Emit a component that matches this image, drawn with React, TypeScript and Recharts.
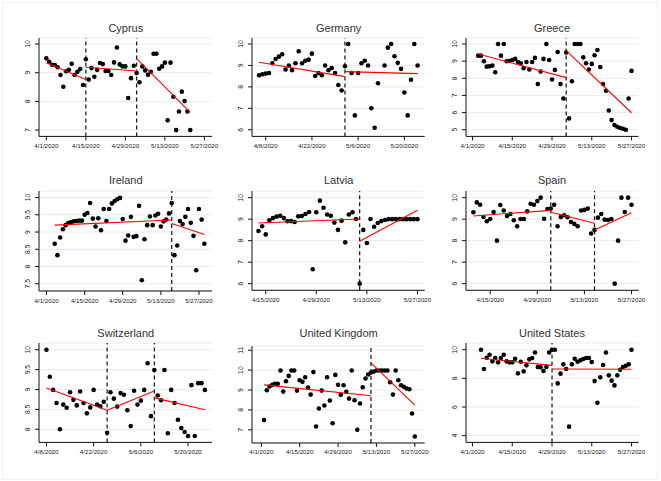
import React from 'react';
import { ScatterChart, Scatter, XAxis, YAxis, CartesianGrid, ReferenceLine } from 'recharts';

// day 0 = 4/1/2020; values are consecutive days starting at *Start
const cyprusStart = 0;
const cyprusValues = [9.5, 9.38, 9.28, 9.27, 9.19, 8.92, 8.51, 9.05, 9.1, 9.31, 8.92, 9.03, 9.13, 8.57, 9.47, 8.76, 9.16, 8.86, 9.1, 9.34, 9.3, 9.06, 9.06, 8.92, 9.36, 9.88, 9.29, 9.22, 9.22, 8.12, 8.81, 9.24, 8.99, 8.67, 9.22, 9.08, 8.93, 9.03, 9.66, 9.66, 9.14, 9.22, 9.35, 7.34, 9.35, 8.16, 7.0, 7.65, 8.34, 8.01, 7.65, 7.0];
const cyprusFit = [[0, 9.35, 14, 8.76], [14, 9.19, 32, 9.06], [32, 9.49, 51, 7.62]];
const cyprusBreaks = [14, 32];

const germanyStart = 5;
const germanyValues = [8.54, 8.59, 8.62, 8.65, 9.1, 9.3, 9.41, 9.52, 8.81, 9.0, 8.78, 9.1, 9.66, 9.1, 9.22, 9.27, 9.55, 8.51, 8.65, 8.54, 9.0, 8.78, 8.88, 8.65, 8.09, 7.83, 8.96, 10.0, 8.65, 6.67, 8.65, 9.1, 9.22, 9.0, 7.0, 6.09, 8.17, null, 9.0, 9.83, 10.0, 9.43, 9.12, 8.84, 7.74, 6.67, 8.33, 10.0, 9.0];
const germanyFit = [[5, 9.15, 31, 8.48], [31, 8.71, 53, 8.62]];
const germanyBreaks = [31];

const greeceStart = 2;
const greeceValues = [9.32, 9.32, 8.99, 8.68, 8.7, 8.74, 8.35, 10, 9.32, 10, 8.99, 9.01, 9.07, 9.13, 8.95, 8.88, 8.59, 8.95, 8.51, 8.95, 9.19, 7.66, 8.39, 9.13, 10, 9.07, 7.93, 8.49, 9.53, 7.66, 6.82, 9.5, 5.66, 7.83, 10, 10, 10, 9.22, 8.88, 8.51, 8.84, 9.34, 9.65, 8.66, 7.66, 7.27, 6.12, 5.56, 5.27, 5.17, 5.1, 5.06, 5.0, 6.82, 8.43];
const greeceFit = [[2, 9.42, 33, 8.04], [33, 9.61, 56, 5.99]];
const greeceBreaks = [33];

const irelandStart = 3;
const irelandValues = [8.66, 8.33, 8.84, 9.08, 9.2, 9.26, 9.29, 9.31, 9.32, 9.33, 9.33, 9.5, 9.55, 9.84, 9.39, 9.16, 9.4, 9.05, 9.67, 9.32, 9.67, 9.83, 9.9, 9.95, 9.99, 9.38, 8.75, 8.9, 9.44, 8.86, 8.88, 9.76, 7.6, 8.79, 9.2, 9.45, 9.2, 9.48, 9.53, 9.16, 9.31, 9.36, 9.54, 9.84, 8.33, 8.61, 9.32, 9.23, 9.44, 9.67, 9.27, 8.89, 7.89, 9.67, 9.36, 8.66];
const irelandFit = [[3, 9.2, 46, 9.35], [46, 9.25, 58, 8.93]];
const irelandBreaks = [46];

const latviaStart = 12;
const latviaValues = [8.45, 8.67, 8.29, 8.95, 9.05, 9.12, 9.16, 9.05, 8.9, 8.91, 8.87, 9.13, 9.15, 9.24, 9.33, 6.67, 9.32, 9.86, 9.53, 9.22, 9.16, 8.84, 8.5, 8.93, 7.92, 9.22, 9.32, 9.01, 6.0, 8.5, 7.89, 9.01, 8.65, 8.82, 8.91, 8.96, 9.0, 9.0, 9.0, 9.0, 9.0, 9.0, 9.0, 9.0, 9.0];
const latviaFit = [[12, 8.82, 40, 9.01], [40, 7.97, 56, 9.41]];
const latviaBreaks = [40];

const spainStart = 9;
const spainValues = [9.32, 9.78, 9.67, 9.1, 8.9, 9.01, 9.33, 8.0, 9.66, 9.4, 9.15, 9.24, 8.95, 8.67, 9.01, 9.01, 9.36, 9.72, 9.67, 9.84, 10, 9.02, 9.47, 9.49, 9.67, 8.67, 9.1, 9.18, 9.09, 8.87, 8.78, 8.67, 9.4, 9.43, 9.49, 8.33, 8.5, 9.07, 9.24, 8.98, 8.96, 9.01, 6.0, 8.0, 10, 9.33, 10, 9.67];
const spainFit = [[9, 9.15, 32, 9.41], [32, 9.32, 45, 8.81], [45, 8.5, 56, 9.3]];
const spainBreaks = [32, 45];

const switzerlandStart = 7;
const switzerlandValues = [10, 9.32, 8.99, 8.66, 8.0, 8.62, 8.54, 8.93, 8.74, 8.6, 8.95, 8.66, 8.4, 8.55, 8.99, 8.62, 8.58, 8.69, 7.91, 8.93, 8.77, 8.57, 8.91, 8.87, 8.48, 8.08, 8.97, 8.62, 8.72, 8.99, 9.66, 8.33, 9.49, 8.85, 8.73, 9.49, 7.9, 8.99, 8.66, 8.24, 8.03, 7.93, 7.83, 9.11, 7.83, 9.16, 9.16, 8.99];
const switzerlandFit = [[7, 9.04, 25, 8.48], [25, 8.48, 39, 8.96], [39, 8.79, 54, 8.49]];
const switzerlandBreaks = [25, 39];

const ukStart = 1;
const ukValues = [7.49, 8.99, 9.18, 9.26, 9.31, 9.31, 9.98, 8.92, 9.44, 9.71, 9.98, 9.98, 8.97, 9.49, 9.41, 9.64, 9.13, 8.77, 9.9, 7.17, 8.07, 8.97, 8.22, 9.64, 8.47, 7.33, 9.76, 9.26, 8.76, 9.24, 8.91, 8.57, 9.98, 8.49, 7.0, 8.32, 9.14, 9.58, 9.78, 9.88, 9.93, 9.98, 9.98, 9.98, 9.98, 9.98, 9.39, 8.77, 9.98, 9.49, 9.24, 9.16, 9.08, 9.04, 7.82, 6.67];
const ukFit = [[1, 9.26, 40, 8.71], [40, 10.36, 56, 8.24]];
const ukBreaks = [40];

const usStart = 3;
const usValues = [10, 8.65, 9.44, 9.65, 9.19, 9.42, 9.12, 9.42, 9.65, 9.19, 9.12, 9.12, 9.37, 8.35, 9.16, 8.49, 8.91, 9.33, 9.42, 9.81, 8.79, 8.77, 8.51, 8.79, 9.81, 10, 10, 7.65, 8.33, 8.98, 8.65, 4.63, 8.98, 9.37, 9.16, 9.26, 9.35, 9.42, 9.42, 9.14, 7.81, 6.3, 8.07, 8.93, 9.81, 8.21, 7.84, 7.51, 8.21, 8.6, 8.79, 8.88, 8.98, 10];
const usFit = [[3, 9.4, 28, 8.91], [28, 8.65, 56, 8.64]];
const usBreaks = [28];

const fortnightTicks = [0, 14, 28, 42, 56];
const weekOffsetTicks = [7, 21, 35, 49];
const midTicks = [14, 28, 42, 56];

const FONT = '"Liberation Sans", Arial, sans-serif';
const INK = '#222';

const dayLabel = (d: number) => {
  const dt = new Date(2020, 3, 1 + d);
  return `${dt.getMonth() + 1}/${dt.getDate()}/2020`;
};

const XTick = (props: any) => (
  <text x={props.x} y={props.y + 5.5} textAnchor="middle" fontSize={6.2} fill={INK} fontFamily={FONT}>
    {dayLabel(props.payload.value)}
  </text>
);

const YTick = (props: any) => {
  const x = props.x - 3.3;
  const y = props.y;
  return (
    <text x={x} y={y} transform={`rotate(-90 ${x} ${y})`} textAnchor="middle" fontSize={6.8} fill={INK} fontFamily={FONT}>
      {props.payload.value}
    </text>
  );
};

const Dot = (props: any) => <circle cx={props.cx} cy={props.cy} r={2.3} fill="#000" />;
const NoDot = () => <g />;

type PanelDef = {
  title: string;
  start: number;
  values: (number | null)[];
  fit: number[][];
  breaks: number[];
  xTicks: number[];
  yTicks: number[];
  box: [number, number, number, number]; // plot left, top, right, bottom
  xDomain: [number, number];
  yDomain: [number, number];
};

const panels: PanelDef[] = [
  { title: 'Cyprus', start: cyprusStart, values: cyprusValues, fit: cyprusFit, breaks: cyprusBreaks, xTicks: fortnightTicks, yTicks: [7, 8, 9, 10], box: [39.3, 38.3, 212.3, 136.7], xDomain: [-2.6, 58.7], yDomain: [6.78, 10.21] },
  { title: 'Germany', start: germanyStart, values: germanyValues, fit: germanyFit, breaks: germanyBreaks, xTicks: weekOffsetTicks, yTicks: [6, 7, 8, 9, 10], box: [252.3, 38.3, 425, 136.7], xDomain: [2.85, 55.15], yDomain: [5.69, 10.28] },
  { title: 'Greece', start: greeceStart, values: greeceValues, fit: greeceFit, breaks: greeceBreaks, xTicks: fortnightTicks, yTicks: [5, 6, 7, 8, 9, 10], box: [465.7, 38.3, 638.3, 136.7], xDomain: [-2.3, 58.5], yDomain: [4.61, 10.35] },
  { title: 'Ireland', start: irelandStart, values: irelandValues, fit: irelandFit, breaks: irelandBreaks, xTicks: fortnightTicks, yTicks: [7.5, 8, 8.5, 9, 9.5, 10], box: [39.3, 190.7, 212.3, 290.7], xDomain: [-2.78, 60.8], yDomain: [7.29, 10.19] },
  { title: 'Latvia', start: latviaStart, values: latviaValues, fit: latviaFit, breaks: latviaBreaks, xTicks: midTicks, yTicks: [6, 7, 8, 9, 10], box: [252.3, 190.7, 425, 290], xDomain: [10.2, 58.0], yDomain: [5.69, 10.31] },
  { title: 'Spain', start: spainStart, values: spainValues, fit: spainFit, breaks: spainBreaks, xTicks: midTicks, yTicks: [6, 7, 8, 9, 10], box: [465.7, 190.7, 638.3, 290], xDomain: [6.8, 58.1], yDomain: [5.69, 10.31] },
  { title: 'Switzerland', start: switzerlandStart, values: switzerlandValues, fit: switzerlandFit, breaks: switzerlandBreaks, xTicks: weekOffsetTicks, yTicks: [8, 8.5, 9, 9.5, 10], box: [39.3, 343.3, 212.3, 442.7], xDomain: [4.8, 56.1], yDomain: [7.67, 10.17] },
  { title: 'United Kingdom', start: ukStart, values: ukValues, fit: ukFit, breaks: ukBreaks, xTicks: fortnightTicks, yTicks: [7, 8, 9, 10, 11], box: [252.3, 345.7, 425, 442.7], xDomain: [-3.4, 59.6], yDomain: [6.34, 11.21] },
  { title: 'United States', start: usStart, values: usValues, fit: usFit, breaks: usBreaks, xTicks: fortnightTicks, yTicks: [4, 6, 8, 10], box: [465.7, 343.3, 638.3, 442.7], xDomain: [-2.3, 58.5], yDomain: [3.53, 10.47] },
];

const titleRowY = [33, 185, 338];

const Panel: React.FC<{ p: PanelDef; row: number }> = ({ p, row }) => {
  const [l, t, r, b] = p.box;
  const w = r - l;
  const h = b - t;
  const points = p.values
    .map((v, i) => ({ x: p.start + i, y: v }))
    .filter((d) => d.y !== null);

  return (
    <>
      <div
        style={{
          position: 'absolute', left: l, width: w, top: titleRowY[row] - 11, textAlign: 'center',
          fontFamily: FONT, fontSize: 11, color: '#333', lineHeight: '13px',
        }}
      >
        {p.title}
      </div>
      <div style={{ position: 'absolute', left: l - 30, top: t - 5 }}>
        <ScatterChart width={w + 52} height={h + 30} margin={{ top: 5, right: 22, left: 0, bottom: 0 }}>
          <CartesianGrid horizontal vertical={false} stroke="#e4edf0" strokeWidth={1} />
          <XAxis
            type="number" dataKey="x" domain={p.xDomain} ticks={p.xTicks} allowDataOverflow
            height={25} tickSize={4} tick={<XTick />} stroke="#111" interval={0}
          />
          <YAxis
            type="number" dataKey="y" domain={p.yDomain} ticks={p.yTicks} allowDataOverflow
            width={30} tickSize={4} tick={<YTick />} stroke="#111" interval={0}
          />
          {p.breaks.map((d) => (
            <ReferenceLine key={`br-${d}`} x={d} stroke="#111" strokeWidth={1.2} strokeDasharray="4 3" />
          ))}
          <Scatter data={points} shape={<Dot />} isAnimationActive={false} />
          {p.fit.map((s, i) => (
            <Scatter
              key={`fit-${i}`}
              data={[{ x: s[0], y: s[1] }, { x: s[2], y: s[3] }]}
              line={{ stroke: '#ff0000', strokeWidth: 1.1 }}
              shape={<NoDot />}
              isAnimationActive={false}
            />
          ))}
        </ScatterChart>
      </div>
    </>
  );
};

export default function App() {
  return (
    <div style={{ position: 'absolute', left: 0, top: 0, width: 661, height: 481, background: '#fff', overflow: 'hidden' }}>
      <div style={{ position: 'absolute', left: 2, top: 2, width: 654, height: 476, border: '1px solid #edf2f4' }} />
      {panels.map((p, i) => (
        <Panel key={p.title} p={p} row={Math.floor(i / 3)} />
      ))}
    </div>
  );
}
